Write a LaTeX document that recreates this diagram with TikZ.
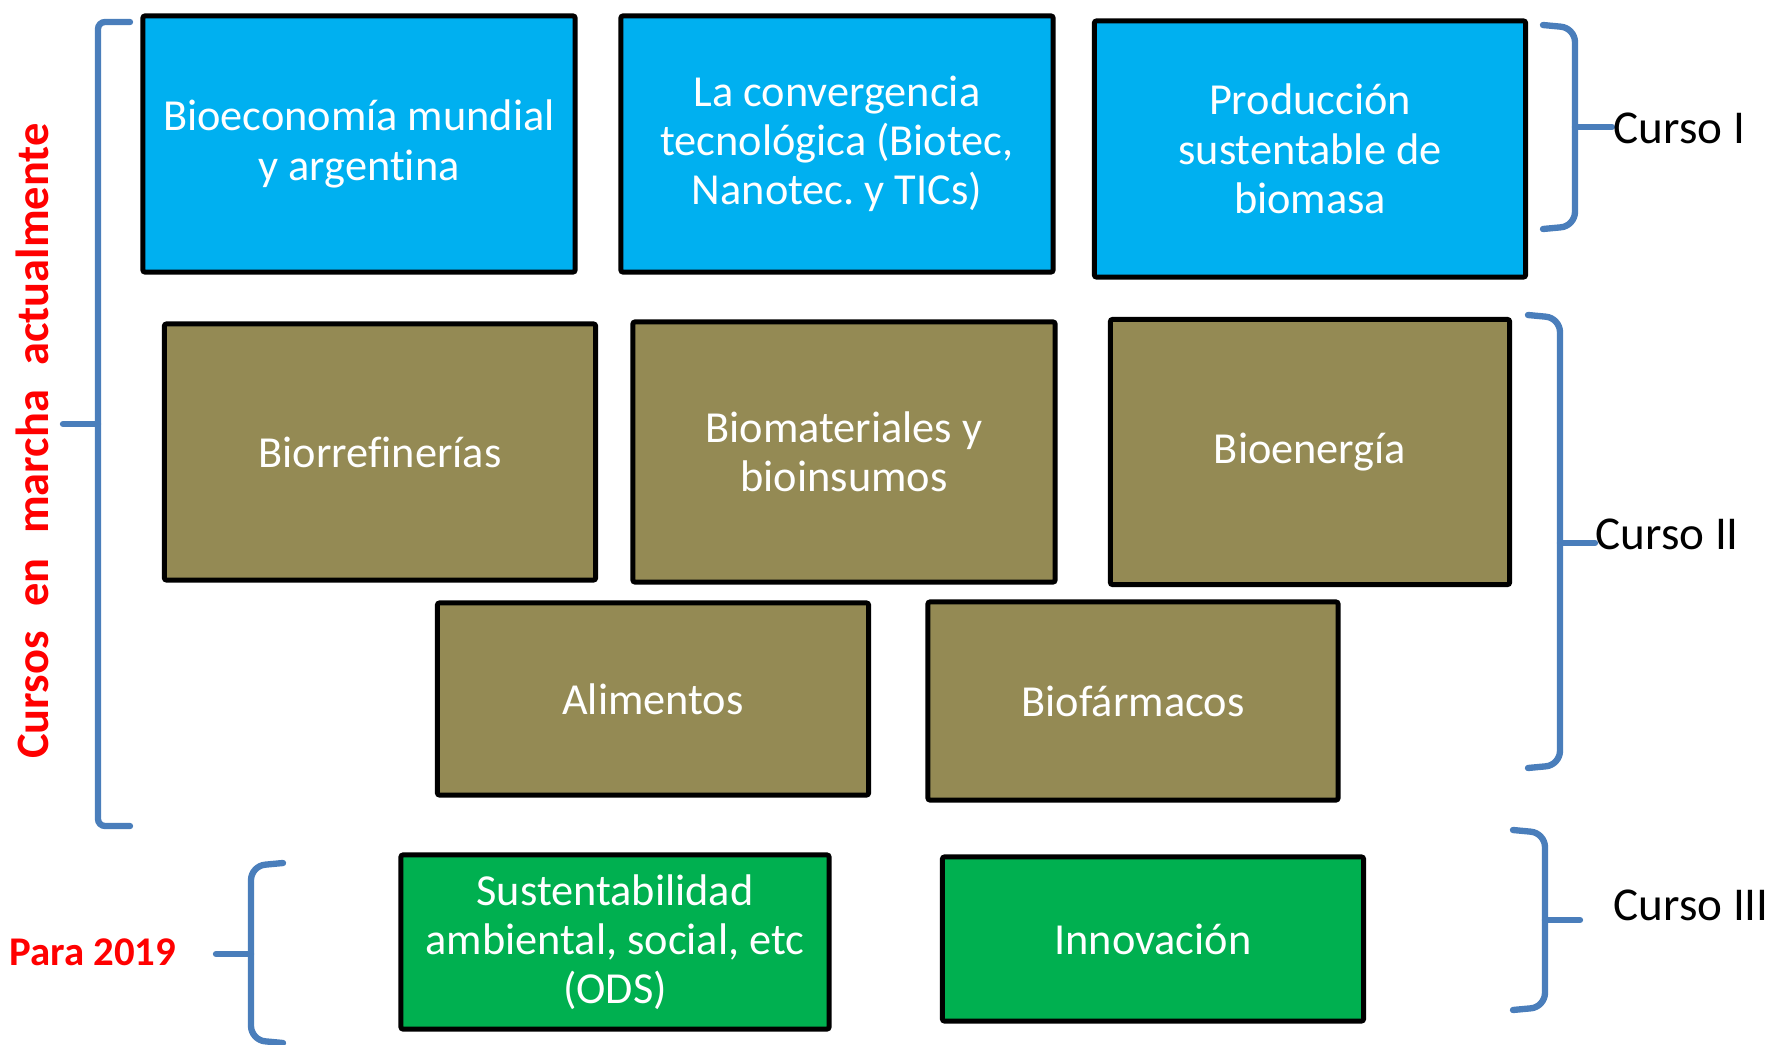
\documentclass[tikz,border=0pt]{standalone}
\usepackage{fontspec}
\setmainfont{Carlito}[Ligatures=NoCommon]
\usepackage{xcolor}
\usepackage{tikz}
\usetikzlibrary{positioning}

\definecolor{azul}{HTML}{00B0F0}
\definecolor{oliva}{HTML}{948A54}
\definecolor{verde}{HTML}{00B050}
\definecolor{llave}{HTML}{4A7EBB}

\begin{document}
\begin{tikzpicture}[x=0.01cm, y=-0.01cm,
	caja/.style={draw=black, line width=1.4pt, rounded corners=0.6pt, text=white, align=center, inner sep=0pt, font=\fontsize{12.6}{14}\selectfont},
	tam/.style 2 args={minimum width=#1cm, minimum height=#2cm},
	llavecurva/.style={draw=llave, line width=1.8pt, rounded corners=4pt, line cap=round},
	curso/.style={anchor=west, inner sep=0pt, font=\fontsize{13.4}{16}\selectfont},
	rojo/.style={text=red, inner sep=0pt, font=\fontsize{#1}{15}\selectfont\bfseries}]

\useasboundingbox (0,0) rectangle (1771,1045);

% Curso I
\node (bioeco) at (359,144) [caja, fill=azul, tam={4.32}{2.56}] {Bioeconomía mundial\\y argentina};
\node (converg) at (837,144) [caja, fill=azul, tam={4.32}{2.56}] {La convergencia\\tecnológica (Biotec,\\Nanotec.\ y TICs)};
\node (biomasa) at (1310,149) [caja, fill=azul, tam={4.31}{2.56}] {Producción\\sustentable de\\biomasa};

% Curso II
\node (biorref) at (380,452) [caja, fill=oliva, tam={4.31}{2.56}] {Biorrefinerías};
\node (biomat) at (844,452) [caja, fill=oliva, tam={4.22}{2.60}] {Biomateriales y\\bioinsumos};
\node (bioener) at (1310,452) [caja, fill=oliva, tam={3.99}{2.65}] {Bioenergía};
\node (alim) at (653,699) [caja, fill=oliva, tam={4.31}{1.92}] {Alimentos};
\node (biofarm) at (1133,701) [caja, fill=oliva, tam={4.10}{1.98}] {Biofármacos};

% Curso III
\node (sustent) at (615,942) [caja, fill=verde, tam={4.28}{1.74}] {Sustentabilidad\\ambiental, social, etc\\(ODS)};
\node (innov) at (1153,939) [caja, fill=verde, tam={4.21}{1.64}] {Innovación};

% llaves
\foreach \xa/\xb/\xc/\ya/\ym/\yb in {1543/1575/1612/25/127/229, 1528/1560/1595/315/543/768, 1513/1545/1580/830/920/1010, 283/251/216/863/954/1043}
{
	\draw[llavecurva] (\xa,\ya) -- (\xb,{\ya+3}) -- (\xb,{\yb-3}) -- (\xa,\yb);
	\draw[llavecurva] (\xb,\ym) -- (\xc,\ym);
}
\draw[llavecurva, rounded corners=2pt] (130,22) -- (98,22) -- (98,826) -- (130,826);
\draw[llavecurva] (98,424) -- (63,424);

\node (cursoI) at (1613,128) [curso] {Curso I};
\node (cursoII) at (1595,534) [curso] {Curso II};
\node (cursoIII) at (1613,905) [curso] {Curso III};

\node (marcha) at (32,441) [rojo=13.2, rotate=90] {Cursos\hspace{7pt}en\hspace{7pt}marcha\hspace{7pt}actualmente};
\node (para) at (93,952) [rojo=11.6] {Para 2019};

\end{tikzpicture}
\end{document}
